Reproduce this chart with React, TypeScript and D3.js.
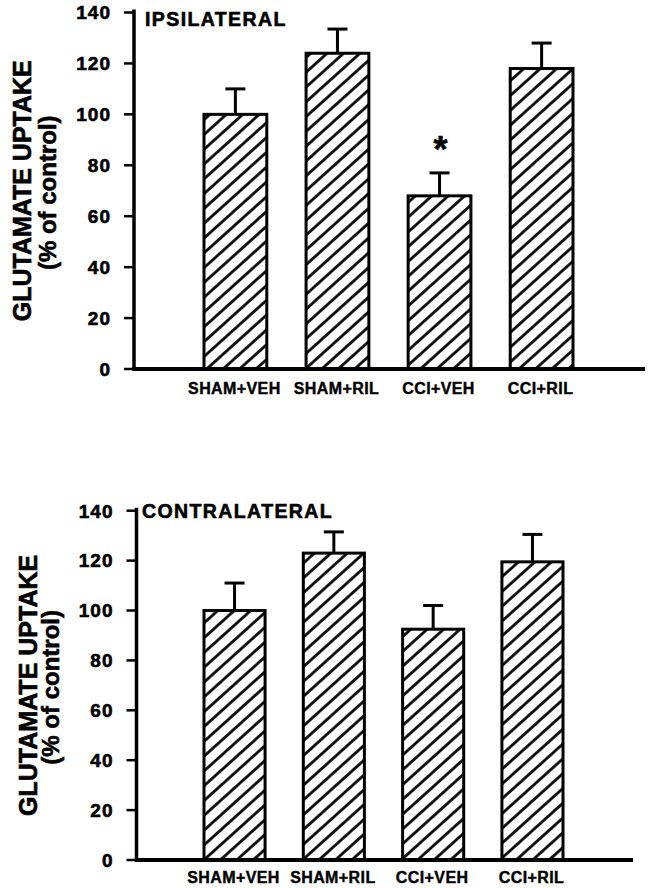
import React from "react";
import * as d3 from "d3";

const categories = ["SHAM+VEH", "SHAM+RIL", "CCI+VEH", "CCI+RIL"];
const ipsilateralMeans = [100, 124, 68, 118];
const ipsilateralErrors = [10, 9.5, 9, 10];
const ipsilateralMarks = ["", "", "*", ""];
const contralateralMeans = [100, 123, 92.5, 119.5];
const contralateralErrors = [11, 8.5, 9.5, 11];
const contralateralMarks = ["", "", "", ""];
const yTicks = [0, 20, 40, 60, 80, 100, 120, 140];
const panelTitles = ["IPSILATERAL", "CONTRALATERAL"];
const yTitleLines = ["GLUTAMATE UPTAKE", "(% of control)"];

const FONT = "'Liberation Sans', Arial, Helvetica, sans-serif";

type Layout = {
  axisX: number;
  y0: number;
  y140: number;
  barStart: number;
  barEnd: number;
  xAxisEnd: number;
  titleX1: number;
  titleX2: number;
  labelY: number;
  panelTitleX: number;
  panelTitleY: number;
};

const layouts: Layout[] = [
  {
    axisX: 134,
    y0: 369,
    y140: 12.5,
    barStart: 204,
    barEnd: 573,
    xAxisEnd: 645,
    titleX1: 31,
    titleX2: 56,
    labelY: 394,
    panelTitleX: 145,
    panelTitleY: 26,
  },
  {
    axisX: 136.5,
    y0: 860,
    y140: 510.7,
    barStart: 204,
    barEnd: 563,
    xAxisEnd: 633,
    titleX1: 36.5,
    titleX2: 58.5,
    labelY: 882.5,
    panelTitleX: 142,
    panelTitleY: 517.5,
  },
];

const textStyle = {
  fontFamily: FONT,
  fontWeight: "bold" as const,
  fill: "#000",
  stroke: "#000",
  strokeWidth: 0.6,
};

function Panel({
  layout,
  means,
  errors,
  marks,
  title,
}: {
  layout: Layout;
  means: number[];
  errors: number[];
  marks: string[];
  title: string;
}) {
  const y = d3.scaleLinear().domain([0, 140]).range([layout.y0, layout.y140]);
  const x = d3
    .scaleBand<string>()
    .domain(categories)
    .range([layout.barStart, layout.barEnd])
    .paddingInner(0.385)
    .paddingOuter(0);
  const bw = x.bandwidth();
  const midY = (layout.y0 + layout.y140) / 2;
  const capW = 20;

  return (
    <g>
      {/* y-axis title */}
      <text
        transform={`translate(${layout.titleX1},${midY}) rotate(-90)`}
        textAnchor="middle"
        fontSize={25}
        style={textStyle}
      >
        {yTitleLines[0]}
      </text>
      <text
        transform={`translate(${layout.titleX2},${midY + 2}) rotate(-90)`}
        textAnchor="middle"
        fontSize={24}
        style={textStyle}
      >
        {yTitleLines[1]}
      </text>

      {/* bars */}
      {categories.map((c, i) => {
        const bx = x(c)!;
        const top = y(means[i]);
        const errTop = y(means[i] + errors[i]);
        const cx = bx + bw / 2;
        return (
          <g key={c}>
            <line x1={cx} x2={cx} y1={top} y2={errTop} stroke="#000" strokeWidth={3} />
            <line x1={cx - capW / 2} x2={cx + capW / 2} y1={errTop} y2={errTop} stroke="#000" strokeWidth={3} />
            <rect
              x={bx}
              y={top}
              width={bw}
              height={layout.y0 - top}
              fill="url(#hatch)"
              stroke="#000"
              strokeWidth={3}
            />
            {marks[i] && (
              <text
                x={cx + 1}
                y={errTop - 11}
                textAnchor="middle"
                fontSize={36}
                style={textStyle}
              >
                {marks[i]}
              </text>
            )}
            <text
              x={cx - 1}
              y={layout.labelY}
              textAnchor="middle"
              fontSize={16}
              letterSpacing={0.4}
              style={{ ...textStyle, strokeWidth: 0.4 }}
            >
              {c}
            </text>
          </g>
        );
      })}

      {/* y axis */}
      <line
        x1={layout.axisX}
        x2={layout.axisX}
        y1={layout.y140 - 3}
        y2={layout.y0}
        stroke="#000"
        strokeWidth={3.5}
      />
      {yTicks.map((t) => (
        <g key={t}>
          <line
            x1={layout.axisX - 10}
            x2={layout.axisX}
            y1={y(t)}
            y2={y(t)}
            stroke="#000"
            strokeWidth={2.5}
          />
          <text
            x={layout.axisX - 23}
            y={y(t)}
            dy="0.36em"
            textAnchor="end"
            fontSize={19}
            letterSpacing={1}
            style={textStyle}
          >
            {t}
          </text>
        </g>
      ))}

      {/* x axis */}
      <line
        x1={layout.axisX - 1.75}
        x2={layout.xAxisEnd}
        y1={layout.y0}
        y2={layout.y0}
        stroke="#000"
        strokeWidth={4}
      />

      {/* panel title */}
      <text
        x={layout.panelTitleX}
        y={layout.panelTitleY}
        fontSize={19.5}
        letterSpacing={1.4}
        style={textStyle}
      >
        {title}
      </text>
    </g>
  );
}

export default function App() {
  return (
    <svg
      width={648}
      height={888}
      viewBox="0 0 648 888"
      style={{ position: "absolute", left: 0, top: 0, background: "#fff" }}
    >
      <defs>
        <pattern
          id="hatch"
          patternUnits="userSpaceOnUse"
          width={11}
          height={11}
          patternTransform="rotate(48)"
        >
          <rect width={11} height={11} fill="#fff" />
          <line x1={5.5} y1={-1} x2={5.5} y2={12} stroke="#000" strokeWidth={2.7} />
        </pattern>
      </defs>
      <rect width={648} height={888} fill="#fff" />
      <Panel
        layout={layouts[0]}
        means={ipsilateralMeans}
        errors={ipsilateralErrors}
        marks={ipsilateralMarks}
        title={panelTitles[0]}
      />
      <Panel
        layout={layouts[1]}
        means={contralateralMeans}
        errors={contralateralErrors}
        marks={contralateralMarks}
        title={panelTitles[1]}
      />
    </svg>
  );
}
